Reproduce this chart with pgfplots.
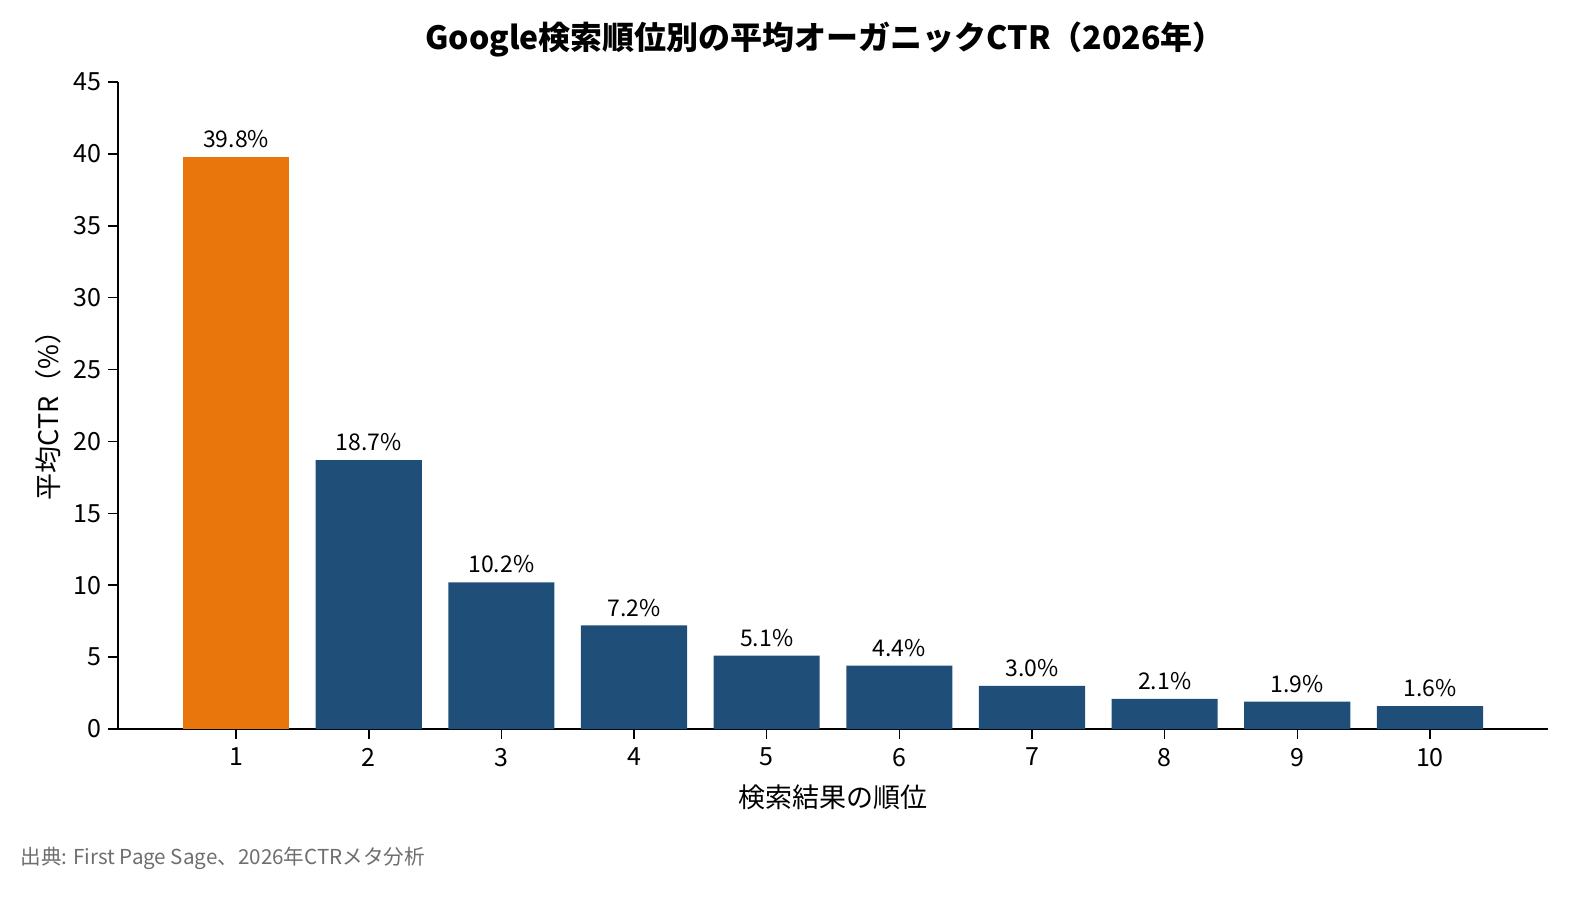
\documentclass[border=0pt]{standalone}
\usepackage{fontspec}
\setmainfont{Noto Sans CJK JP}
\usepackage{pgfplots}
\pgfplotsset{compat=1.18}
\definecolor{barorange}{HTML}{E8760C}
\definecolor{barblue}{HTML}{1F4E79}
\definecolor{notegray}{HTML}{6E6E6E}
\begin{document}
\begin{tikzpicture}
\begin{axis}[
  at={(0,0)}, anchor=south west,
  scale only axis,
  width=715pt, height=323.5pt,
  xmin=0.11, xmax=10.89,
  ymin=0, ymax=45,
  axis x line*=bottom, axis y line*=left,
  axis line style={line width=0.8pt},
  xtick={1,...,10},
  ytick={0,5,...,45},
  tick style={line width=0.8pt, black},
  tick align=outside,
  major tick length=5pt,
  /pgf/number format/assume math mode=true,
  ticklabel style={font=\fontsize{12.5}{14}\selectfont},
  xticklabel style={yshift=-1pt},
  ybar, bar width=0.8, bar shift=0pt,
  nodes near coords={\pgfmathprintnumber[fixed,precision=1,fixed zerofill]{\pgfplotspointmeta}\%},
  nodes near coords style={font=\fontsize{11.5}{13}\selectfont, black, yshift=1pt},
  clip=false,
]
\addplot[fill=barorange, draw=none] coordinates {(1,39.8)};
\addplot[fill=barblue, draw=none] coordinates {(2,18.7) (3,10.2) (4,7.2) (5,5.1) (6,4.4) (7,3.0) (8,2.1) (9,1.9) (10,1.6)};
\end{axis}
\node[font=\fontsize{16}{19}\selectfont\bfseries] at (353.5pt,344.5pt) {Google検索順位別の平均オーガニックCTR（2026年）};
\node[font=\fontsize{13.5}{16}\selectfont, rotate=90] at (-35pt,160pt) {平均CTR（\%）};
\node[font=\fontsize{13.5}{16}\selectfont] at (357.5pt,-34pt) {検索結果の順位};
\node[font=\fontsize{10.3}{12}\selectfont, text=notegray, anchor=west, inner sep=0pt] at (-49pt,-64.5pt) {出典: First Page Sage、2026年CTRメタ分析};
\pgfresetboundingbox
\useasboundingbox (-59pt,-88.5pt) rectangle (738pt,364.5pt);
\end{tikzpicture}
\end{document}
